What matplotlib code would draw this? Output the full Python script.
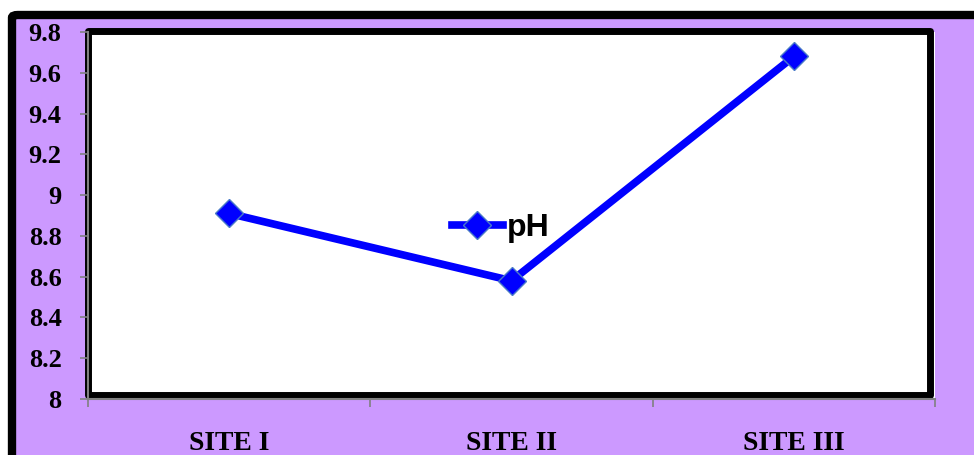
import matplotlib
matplotlib.use('Agg')
import matplotlib.pyplot as plt
from matplotlib.patches import FancyBboxPatch, Rectangle

sites = ['SITE I', 'SITE II', 'SITE III']
ph = [8.91, 8.58, 9.68]
yticks = [8, 8.2, 8.4, 8.6, 8.8, 9, 9.2, 9.4, 9.6, 9.8]
ytick_labels = ['8', '8.2', '8.4', '8.6', '8.8', '9', '9.2', '9.4', '9.6', '9.8']

W, H = 974, 455
fig = plt.figure(figsize=(W / 100, H / 100), dpi=100)
fig.patch.set_facecolor('white')

# purple chart area with thick black border, runs off the right/bottom edge
box = FancyBboxPatch((12 / W, -30 / H), (W + 30) / W, (H + 30 - 15) / H,
                     boxstyle='round,pad=0,rounding_size=0.006',
                     transform=fig.transFigure, facecolor='#CC99FF',
                     edgecolor='black', linewidth=6, zorder=-10)
fig.add_artist(box)

ax = fig.add_axes([88 / W, 1 - 399 / H, (935 - 88) / W, (399 - 32) / H])
ax.set_facecolor('white')

x = [0.5, 1.5, 2.5]
ax.plot(x, ph, color='#0000FF', linewidth=5.5, marker='D', markersize=14.5,
        markerfacecolor='#0000FF', markeredgecolor='#4A7BC8',
        markeredgewidth=1, label='pH', zorder=3)

ax.set_xlim(0, 3)
ax.set_ylim(8, 9.8)
ax.set_yticks(yticks)
ax.set_yticklabels(ytick_labels, fontfamily='Liberation Serif',
                   fontweight='bold', fontsize=19)
ax.set_xticks([0, 1, 2, 3])
ax.set_xticklabels([])
ax.set_xticks(x, minor=True)
ax.set_xticklabels(sites, minor=True, fontfamily='Liberation Serif',
                   fontweight='bold', fontsize=20)
ax.tick_params(axis='x', which='minor', length=0, pad=23)
ax.tick_params(axis='x', which='major', length=6, color='#808080', width=1.2)
ax.tick_params(axis='y', length=6, color='#808080', width=1.2, pad=13)

for s in ax.spines.values():
    s.set_visible(False)
ax.spines['left'].set_visible(True)
ax.spines['bottom'].set_visible(True)
ax.spines['left'].set_color('#808080')
ax.spines['bottom'].set_color('#808080')
ax.spines['left'].set_linewidth(1.5)
ax.spines['bottom'].set_linewidth(1.5)

# thick black frame around the plot area
frame = Rectangle((0.0, 0.01), 0.994, 0.992, transform=ax.transAxes,
                  fill=False, edgecolor='black', linewidth=5,
                  joinstyle='round', clip_on=False, zorder=1)
ax.add_patch(frame)

leg = ax.legend(loc='center', bbox_to_anchor=(0.487, 0.465), frameon=False,
                handlelength=1.6, handletextpad=0.12,
                prop={'family': 'Liberation Sans', 'weight': 'bold', 'size': 23})

fig.savefig('out.png', dpi=100)
